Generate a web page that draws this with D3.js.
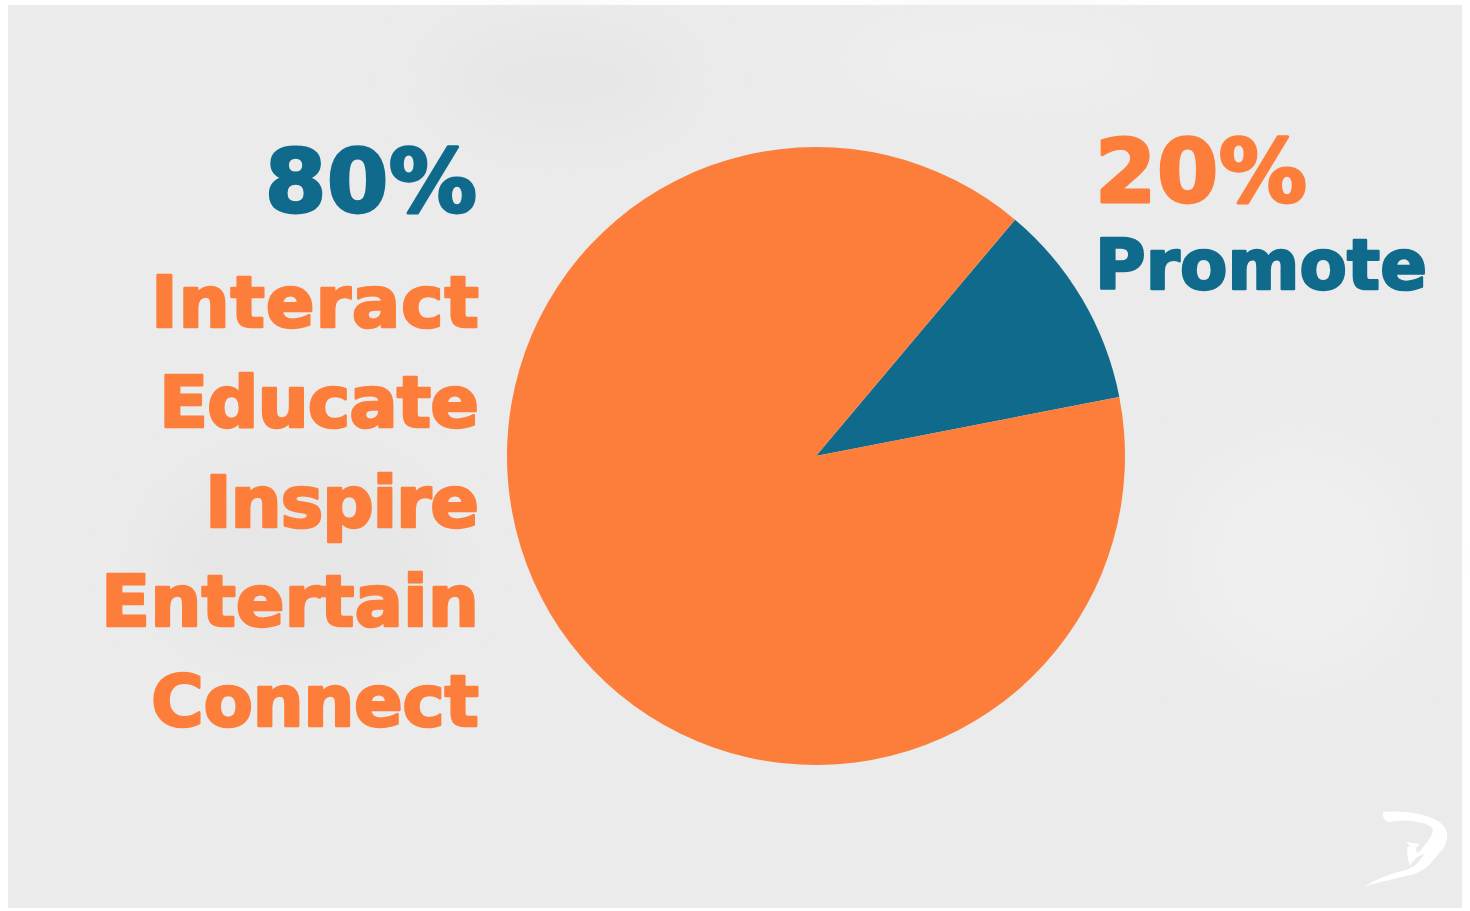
<!DOCTYPE html>
<html>
<head>
<meta charset="utf-8">
<script src="https://cdn.jsdelivr.net/npm/d3@7"></script>
<style>
  html, body { margin: 0; padding: 0; background: #fff; }
  svg { display: block; }
</style>
</head>
<body>
<div class="chart"></div>
<script>

// slice values as drawn (the wedge is narrower than the 20% label says)
var sliceNames = ["Promote", "Rest"];
var sliceValues = [10.8, 89.2];
var shareLabels = ["80%", "20%"];
var activities = ["Interact", "Educate", "Inspire", "Entertain", "Connect"];
var promoteLabel = "Promote";

var w = 1470, h = 911;
var orange = "#fd7d3b", blue = "#0f6a8c";
var font = "'DejaVu Sans', Verdana, sans-serif";

var svg = d3.select("div.chart").append("svg")
  .attr("width", w)
  .attr("height", h);

var defs = svg.append("defs");
var blur = defs.append("filter").attr("id", "soft")
  .attr("x", "-50%").attr("y", "-50%").attr("width", "200%").attr("height", "200%");
blur.append("feGaussianBlur").attr("stdDeviation", 30);

// card background
svg.append("rect").attr("width", w).attr("height", h).attr("fill", "#fff");
svg.append("rect")
  .attr("x", 8).attr("y", 5)
  .attr("width", 1454).attr("height", 903)
  .attr("fill", "#ebebeb");

// faint watercolor blotches
var blotches = svg.append("g").attr("filter", "url(#soft)");
blotches.append("ellipse").attr("cx", 560).attr("cy", 80).attr("rx", 120).attr("ry", 50).attr("fill", "#e6e6e6");
blotches.append("ellipse").attr("cx", 300).attr("cy", 560).attr("rx", 140).attr("ry", 90).attr("fill", "#e6e6e6");
blotches.append("ellipse").attr("cx", 1300).attr("cy", 560).attr("rx", 120).attr("ry", 120).attr("fill", "#efefef");
blotches.append("ellipse").attr("cx", 1000).attr("cy", 60).attr("rx", 160).attr("ry", 40).attr("fill", "#efefef");

// pie
var cx = 816, cy = 456, r = 309;

var pie = d3.pie()
  .sort(null)
  .value(function(d){ return d; })
  .startAngle(40.1 * Math.PI / 180)
  .endAngle(40.1 * Math.PI / 180 + 2 * Math.PI);

var arc = d3.arc().innerRadius(0).outerRadius(r);

var pieGroup = svg.append("g")
  .attr("transform", "translate(" + cx + "," + cy + ")");

pieGroup.selectAll("path.slice")
  .data(pie(sliceValues))
  .enter().append("path")
    .attr("class", "slice")
    .attr("d", arc)
    .attr("fill", function(d, i){ return i === 0 ? blue : orange; });

// heavy lettering: bold font plus a thin same-colour stroke
function heavy(sel, col, sw) {
  sel.attr("font-family", font).attr("font-weight", "bold")
    .attr("fill", col).attr("stroke", col)
    .attr("stroke-width", sw).attr("stroke-linejoin", "round")
    .attr("lengthAdjust", "spacing");
}

// left block: 80% + activities
svg.append("text")
  .attr("x", 477).attr("y", 212)
  .attr("text-anchor", "end")
  .attr("font-size", 88)
  .attr("textLength", 212)
  .call(heavy, blue, 3)
  .text(shareLabels[0]);

var y = d3.scalePoint()
  .domain(activities)
  .range([327, 726]);

var widths = {Interact: 328, Educate: 320, Inspire: 274, Entertain: 378, Connect: 328};

svg.selectAll("text.activity")
  .data(activities)
  .enter().append("text")
    .attr("class", "activity")
    .attr("x", 479)
    .attr("y", function(d){ return y(d); })
    .attr("text-anchor", "end")
    .attr("font-size", 72)
    .attr("textLength", function(d){ return widths[d]; })
    .call(heavy, orange, 2.5)
    .text(function(d){ return d; });

// right block: 20% + Promote
svg.append("text")
  .attr("x", 1095).attr("y", 202)
  .attr("font-size", 88)
  .attr("textLength", 212)
  .call(heavy, orange, 3)
  .text(shareLabels[1]);

svg.append("text")
  .attr("x", 1095).attr("y", 289)
  .attr("font-size", 69)
  .attr("textLength", 332)
  .call(heavy, blue, 2.5)
  .text(promoteLabel);

// little white logo, bottom right
var logo = svg.append("g").attr("transform", "translate(1350,790)").attr("fill", "#fff");
logo.append("path")
  .attr("d", "M33,22 C55,20 80,24 92,34 C100,42 98,52 92,60 L80,74 C74,80 66,84 56,86 C40,90 28,92 14,97 C24,90 40,84 56,80 C64,77 70,72 74,64 C68,66 62,70 60,76 C58,70 56,62 58,56 L66,58 C66,66 70,62 74,56 C82,46 86,40 80,36 C70,30 52,30 38,32 C34,30 32,26 33,22 Z");
logo.append("path")
  .attr("d", "M56,52 L70,54 L64,60 Z");

</script>
</body>
</html>
